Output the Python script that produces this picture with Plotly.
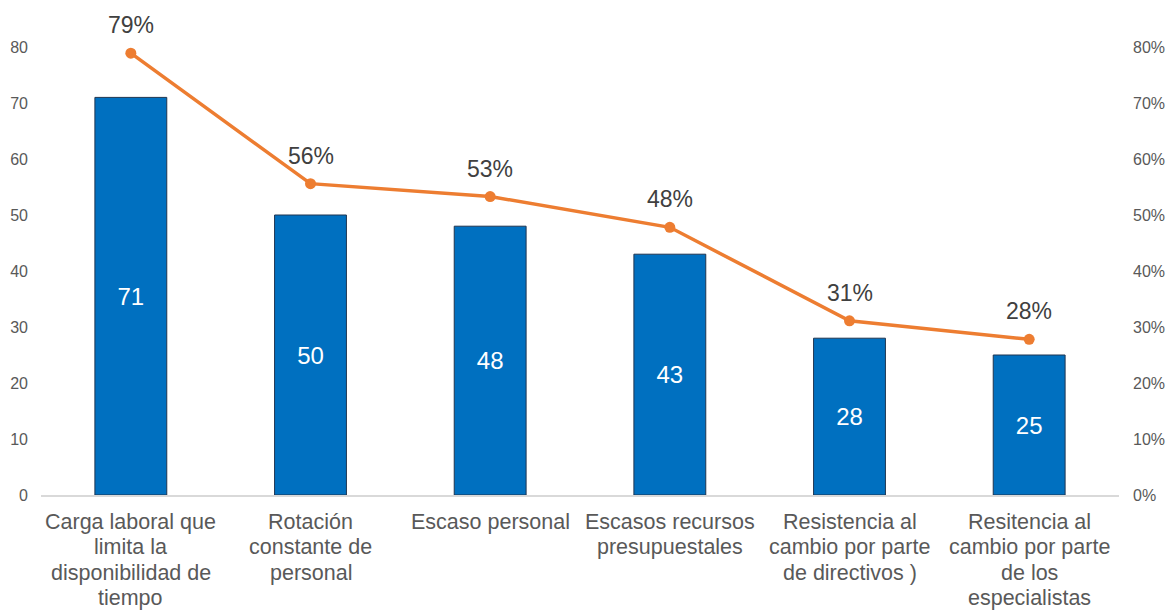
import plotly.graph_objects as go

categories = [
    "Carga laboral que<br>limita la<br>disponibilidad de<br>tiempo",
    "Rotación<br>constante de<br>personal",
    "Escaso personal",
    "Escasos recursos<br>presupuestales",
    "Resistencia al<br>cambio por parte<br>de directivos )",
    "Resitencia al<br>cambio por parte<br>de los<br>especialistas",
]
counts = [71, 50, 48, 43, 28, 25]
percentages = [78.9, 55.6, 53.3, 47.8, 31.1, 27.8]

left_ticks = [0, 10, 20, 30, 40, 50, 60, 70, 80]
right_ticks = [0, 10, 20, 30, 40, 50, 60, 70, 80]
right_tick_labels = ["0%", "10%", "20%", "30%", "40%", "50%", "60%", "70%", "80%"]

FONT = "Liberation Sans, Arial, sans-serif"
GRAY = "#595959"
LINE_GAP = 25.4  # spacing between wrapped lines of a category label

fig = go.Figure()

fig.add_trace(go.Bar(
    x=categories,
    y=counts,
    width=0.4,
    marker=dict(color="#0070C0", line=dict(color="#1F3550", width=1)),
    texttemplate="%{y}",
    textposition="inside",
    insidetextanchor="middle",
    textfont=dict(family=FONT, size=24, color="white"),
    yaxis="y",
    showlegend=False,
))

fig.add_trace(go.Scatter(
    x=categories,
    y=percentages,
    mode="lines+markers",
    line=dict(color="#ED7D31", width=3.5),
    marker=dict(color="#ED7D31", size=11),
    cliponaxis=False,
    yaxis="y2",
    showlegend=False,
))

# percentage labels above each point of the line
for cat, pct in zip(categories, percentages):
    fig.add_annotation(
        x=cat, y=pct, xref="x", yref="y2",
        text=f"{pct:.0f}%",
        showarrow=False,
        yanchor="middle",
        yshift=28,
        font=dict(family=FONT, size=23, color="#404040"),
    )

# category labels under the axis, one text per wrapped line for tighter spacing
for cat in categories:
    for i, part in enumerate(cat.split("<br>")):
        fig.add_annotation(
            x=cat, y=0, xref="x", yref="paper",
            text=part,
            showarrow=False,
            xanchor="center",
            yanchor="middle",
            yshift=-(27 + LINE_GAP * i),
            font=dict(family=FONT, size=21.5, color=GRAY),
        )

fig.update_layout(
    width=1168,
    height=610,
    margin=dict(l=41, r=49, t=47, b=115),
    plot_bgcolor="white",
    paper_bgcolor="white",
    font=dict(family=FONT, color=GRAY),
    xaxis=dict(
        automargin=False,
        showgrid=False,
        showline=True,
        linecolor="#D9D9D9",
        linewidth=1.5,
        ticks="",
        showticklabels=False,
    ),
    yaxis=dict(
        automargin=False,
        range=[0, 80],
        tickvals=left_ticks,
        showgrid=False,
        zeroline=False,
        showline=False,
        tickfont=dict(family=FONT, size=16, color=GRAY),
        ticklabelstandoff=12,
    ),
    yaxis2=dict(
        automargin=False,
        range=[0, 80],
        overlaying="y",
        side="right",
        tickvals=right_ticks,
        ticktext=right_tick_labels,
        showgrid=False,
        zeroline=False,
        showline=False,
        tickfont=dict(family=FONT, size=16, color=GRAY),
        ticklabelstandoff=13,
    ),
    bargap=0.6,
)

fig.write_html("out.html")
